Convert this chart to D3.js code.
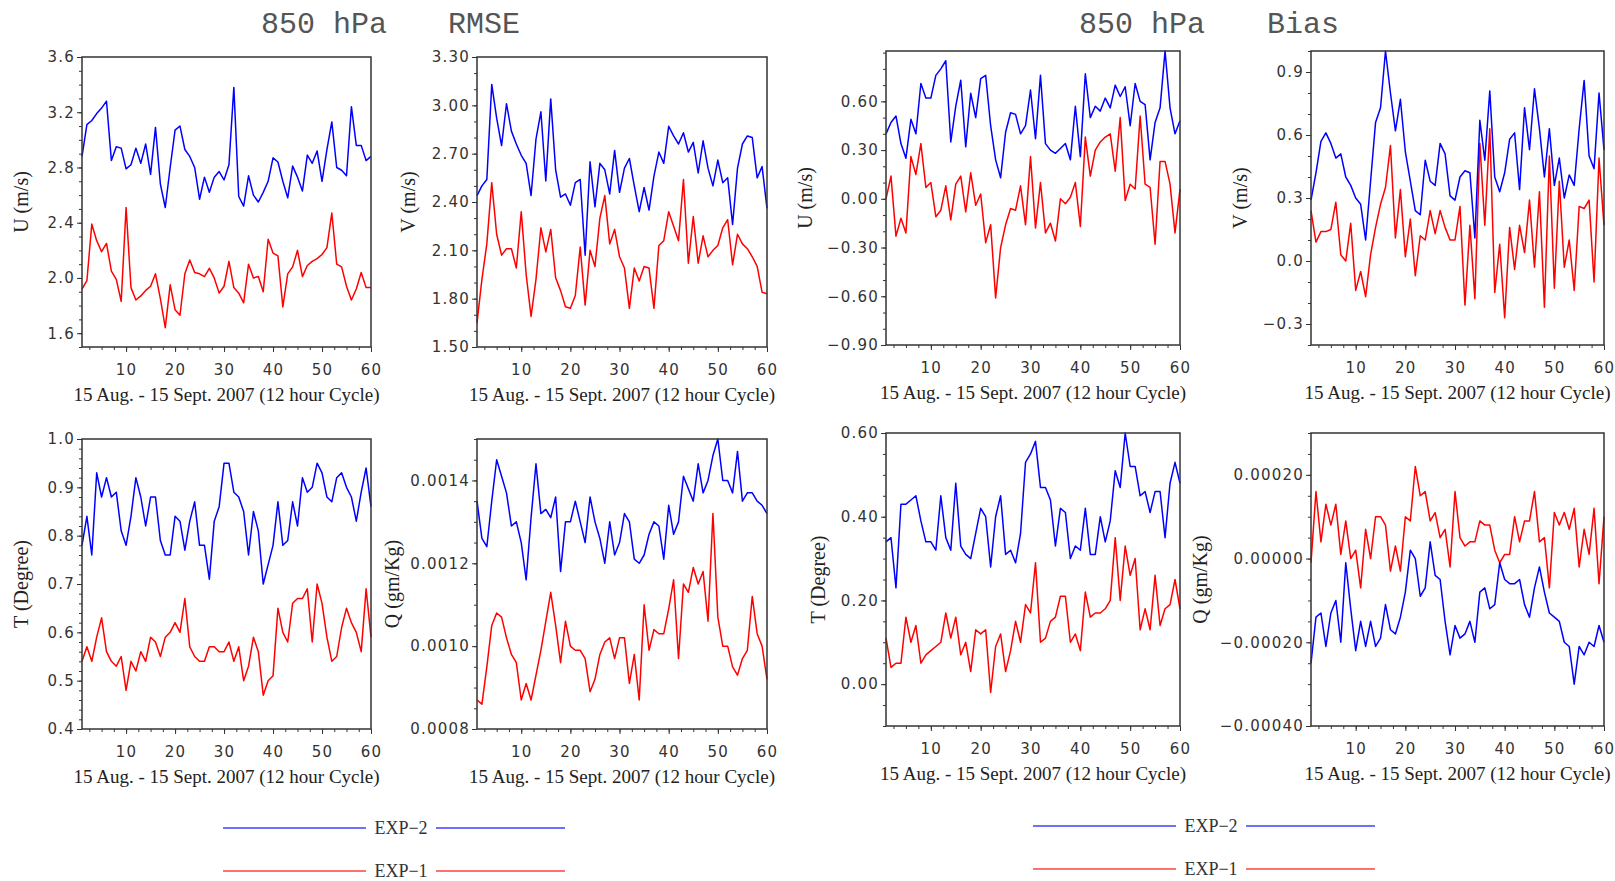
<!DOCTYPE html>
<html>
<head>
<meta charset="utf-8">
<script src="https://cdn.jsdelivr.net/npm/d3@7"></script>
<style>
  body { margin: 0; background: #fff; }
</style>
</head>
<body>
<script>
// 60 cicluri de 12 ore, 15 aug - 15 sept 2007 (850 hPa)
const cycleTicks = [10, 20, 30, 40, 50, 60];

// RMSE
const uRmseExp2 = [2.88,3.11,3.14,3.19,3.23,3.28,2.85,2.95,2.94,2.79, 2.82,2.94,2.83,2.97,2.75,3.09,2.68,2.51,2.80,3.07, 3.10,2.93,2.88,2.80,2.57,2.73,2.62,2.73,2.77,2.71, 2.82,3.38,2.59,2.52,2.74,2.60,2.55,2.62,2.70,2.87, 2.84,2.70,2.58,2.81,2.73,2.63,2.89,2.83,2.92,2.70, 2.93,3.13,2.80,2.78,2.74,3.24,2.96,2.96,2.85,2.88];
const uRmseExp1 = [1.92,1.98,2.39,2.27,2.19,2.25,2.05,1.99,1.83,2.51, 1.93,1.84,1.87,1.91,1.94,2.03,1.85,1.64,1.95,1.77, 1.73,2.03,2.13,2.04,2.03,2.01,2.07,2.00,1.89,1.94, 2.12,1.93,1.89,1.82,2.10,2.00,2.01,1.90,2.28,2.18, 2.16,1.79,2.03,2.08,2.20,2.01,2.09,2.12,2.14,2.17, 2.22,2.47,2.10,2.08,1.94,1.84,1.92,2.04,1.93,1.93];
const vRmseExp2 = [2.44,2.50,2.54,3.13,2.92,2.75,3.01,2.84,2.76,2.69, 2.64,2.44,2.79,2.96,2.53,3.04,2.60,2.43,2.45,2.38, 2.52,2.54,2.07,2.65,2.37,2.64,2.60,2.45,2.72,2.46, 2.61,2.67,2.50,2.34,2.49,2.35,2.56,2.71,2.64,2.87, 2.81,2.76,2.83,2.71,2.77,2.58,2.78,2.61,2.50,2.66, 2.52,2.55,2.26,2.61,2.76,2.81,2.80,2.55,2.62,2.36];
const vRmseExp1 = [1.65,1.92,2.14,2.52,2.20,2.07,2.11,2.11,1.99,2.34, 1.95,1.69,1.92,2.24,2.09,2.23,1.93,1.85,1.75,1.74, 1.82,2.12,1.76,2.10,2.00,2.30,2.44,2.14,2.23,2.06, 1.99,1.74,1.99,1.91,2.00,1.99,1.74,2.13,2.16,2.34, 2.25,2.16,2.54,2.02,2.31,2.02,2.19,2.06,2.10,2.13, 2.24,2.29,2.01,2.20,2.14,2.11,2.06,2.00,1.84,1.83];
const tRmseExp2 = [0.78,0.84,0.76,0.93,0.88,0.92,0.88,0.89,0.81,0.78, 0.84,0.92,0.88,0.82,0.88,0.88,0.79,0.76,0.76,0.84, 0.83,0.77,0.83,0.87,0.78,0.78,0.71,0.83,0.86,0.95, 0.95,0.89,0.88,0.85,0.76,0.85,0.81,0.70,0.74,0.78, 0.87,0.78,0.79,0.87,0.82,0.92,0.89,0.90,0.95,0.93, 0.88,0.87,0.92,0.93,0.90,0.88,0.83,0.89,0.94,0.86];
const tRmseExp1 = [0.54,0.57,0.54,0.59,0.63,0.56,0.54,0.53,0.55,0.48, 0.54,0.52,0.56,0.54,0.59,0.58,0.55,0.59,0.60,0.62, 0.60,0.67,0.57,0.55,0.54,0.54,0.57,0.57,0.56,0.56, 0.58,0.54,0.57,0.50,0.53,0.59,0.56,0.47,0.50,0.51, 0.65,0.60,0.58,0.66,0.67,0.67,0.69,0.58,0.70,0.66, 0.59,0.54,0.55,0.61,0.65,0.62,0.60,0.56,0.69,0.59];
const qRmseExp2 = [0.00135,0.00126,0.00124,0.00135,0.00145,0.00141,0.00137,0.00129,0.00130,0.00125, 0.00116,0.00131,0.00144,0.00132,0.00133,0.00131,0.00136,0.00118,0.00130,0.00130, 0.00135,0.00130,0.00125,0.00136,0.00130,0.00126,0.00120,0.00130,0.00122,0.00125, 0.00132,0.00130,0.00121,0.00120,0.00122,0.00127,0.00130,0.00129,0.00121,0.00134, 0.00127,0.00130,0.00141,0.00138,0.00135,0.00144,0.00137,0.00140,0.00146,0.00150, 0.00140,0.00140,0.00137,0.00147,0.00135,0.00137,0.00137,0.00135,0.00134,0.00132];
const qRmseExp1 = [0.00087,0.00086,0.00095,0.00105,0.00108,0.00107,0.00102,0.00098,0.00096,0.00087, 0.00091,0.00087,0.00093,0.00099,0.00106,0.00113,0.00105,0.00096,0.00106,0.00100, 0.00099,0.00099,0.00097,0.00089,0.00092,0.00098,0.00101,0.00102,0.00097,0.00102, 0.00102,0.00091,0.00098,0.00087,0.00110,0.00099,0.00104,0.00103,0.00103,0.00109, 0.00116,0.00097,0.00115,0.00113,0.00119,0.00115,0.00118,0.00106,0.00132,0.00107, 0.00100,0.00100,0.00095,0.00093,0.00097,0.00099,0.00112,0.00103,0.00100,0.00092];

// Bias
const uBiasExp2 = [0.40,0.47,0.51,0.34,0.25,0.49,0.40,0.71,0.62,0.62, 0.76,0.80,0.85,0.35,0.57,0.73,0.32,0.65,0.50,0.74, 0.76,0.45,0.24,0.13,0.41,0.53,0.52,0.40,0.45,0.67, 0.37,0.76,0.34,0.30,0.28,0.31,0.34,0.24,0.57,0.26, 0.77,0.50,0.57,0.54,0.62,0.56,0.70,0.63,0.69,0.45, 0.71,0.60,0.58,0.24,0.47,0.56,0.91,0.56,0.40,0.48];
const uBiasExp1 = [0.00,0.14,-0.23,-0.12,-0.21,0.26,0.15,0.34,0.07,0.10, -0.11,-0.07,0.08,-0.13,0.09,0.14,-0.08,0.16,-0.04,0.03, -0.27,-0.16,-0.61,-0.30,-0.16,-0.06,-0.07,0.08,-0.16,0.26, -0.18,0.10,-0.21,-0.15,-0.26,0.00,-0.03,0.01,0.10,-0.17, 0.38,0.14,0.30,0.35,0.38,0.40,0.17,0.50,-0.01,0.09, 0.06,0.51,0.09,0.07,-0.28,0.23,0.23,0.09,-0.21,0.06];
const vBiasExp2 = [0.29,0.42,0.57,0.61,0.56,0.49,0.51,0.40,0.36,0.30, 0.27,0.10,0.38,0.66,0.73,1.00,0.80,0.62,0.77,0.52, 0.38,0.24,0.22,0.48,0.38,0.36,0.56,0.51,0.31,0.29, 0.40,0.43,0.42,0.11,0.67,0.48,0.81,0.40,0.33,0.42, 0.58,0.61,0.34,0.73,0.53,0.82,0.63,0.40,0.63,0.36, 0.49,0.30,0.41,0.36,0.63,0.86,0.50,0.44,0.80,0.53];
const vBiasExp1 = [0.24,0.09,0.14,0.14,0.15,0.28,0.03,0.00,0.18,-0.14, -0.05,-0.17,0.03,0.16,0.27,0.35,0.55,0.11,0.34,0.02, 0.20,-0.07,0.12,0.10,0.24,0.13,0.24,0.16,0.10,0.10, 0.26,-0.21,0.17,-0.18,0.56,0.17,0.63,-0.15,0.08,-0.27, 0.16,-0.04,0.17,0.04,0.29,-0.03,0.33,-0.22,0.50,-0.13, 0.38,-0.03,0.10,-0.14,0.26,0.25,0.29,-0.10,0.49,0.17];
const tBiasExp2 = [0.34,0.35,0.23,0.43,0.43,0.44,0.45,0.39,0.34,0.34, 0.32,0.45,0.35,0.32,0.48,0.33,0.31,0.30,0.36,0.42, 0.40,0.28,0.40,0.45,0.31,0.32,0.29,0.36,0.53,0.55, 0.58,0.47,0.47,0.44,0.33,0.42,0.41,0.30,0.33,0.32, 0.42,0.31,0.31,0.40,0.34,0.39,0.51,0.47,0.60,0.52, 0.52,0.45,0.46,0.41,0.46,0.46,0.35,0.48,0.53,0.48];
const tBiasExp1 = [0.11,0.04,0.05,0.05,0.16,0.10,0.14,0.05,0.07,0.08, 0.09,0.10,0.17,0.11,0.16,0.07,0.10,0.03,0.13,0.12, 0.13,-0.02,0.09,0.12,0.03,0.08,0.15,0.10,0.19,0.17, 0.29,0.10,0.11,0.15,0.16,0.21,0.21,0.10,0.12,0.08, 0.22,0.16,0.17,0.17,0.18,0.20,0.35,0.20,0.33,0.26, 0.30,0.13,0.18,0.13,0.26,0.14,0.18,0.19,0.25,0.18];
const qBiasExp2 = [-0.00025,-0.00014,-0.00013,-0.00021,-0.00013,-0.00010,-0.00020,-0.00001,-0.00012,-0.00022, -0.00015,-0.00021,-0.00015,-0.00021,-0.00019,-0.00011,-0.00017,-0.00018,-0.00014,-0.00008, 0.00002,0.00000,-0.00009,-0.00007,0.00004,-0.00004,-0.00005,-0.00015,-0.00023,-0.00016, -0.00019,-0.00018,-0.00015,-0.00020,-0.00008,-0.00007,-0.00012,-0.00011,-0.00001,-0.00005, -0.00006,-0.00006,-0.00005,-0.00011,-0.00014,-0.00007,-0.00002,-0.00008,-0.00013,-0.00014, -0.00015,-0.00020,-0.00021,-0.00030,-0.00021,-0.00023,-0.00020,-0.00021,-0.00016,-0.00020];
const qBiasExp1 = [-0.00001,0.00016,0.00004,0.00013,0.00008,0.00013,0.00001,0.00009,0.00000,0.00002, -0.00007,0.00007,0.00000,0.00010,0.00010,0.00008,-0.00003,0.00003,-0.00003,0.00010, 0.00009,0.00022,0.00015,0.00016,0.00009,0.00011,0.00005,0.00007,-0.00002,0.00016, 0.00005,0.00003,0.00004,0.00004,0.00009,0.00008,0.00008,0.00002,-0.00001,0.00001, 0.00001,0.00010,0.00004,0.00009,0.00009,0.00016,0.00004,0.00005,-0.00007,0.00011, 0.00008,0.00011,0.00007,0.00012,-0.00002,0.00007,0.00001,0.00012,-0.00006,0.00010];

// Etichetele axelor Y (valori majore)
const uRmseTicks = [1.6, 2.0, 2.4, 2.8, 3.2, 3.6];
const vRmseTicks = [1.5, 1.8, 2.1, 2.4, 2.7, 3.0, 3.3];
const tRmseTicks = [0.4, 0.5, 0.6, 0.7, 0.8, 0.9, 1.0];
const qRmseTicks = [0.0008, 0.0010, 0.0012, 0.0014];
const uBiasTicks = [-0.9, -0.6, -0.3, 0, 0.3, 0.6];
const vBiasTicks = [-0.3, 0, 0.3, 0.6, 0.9];
const tBiasTicks = [0, 0.2, 0.4, 0.6];
const qBiasTicks = [-0.0004, -0.0002, 0, 0.0002];

const seriesNames = ["EXP−2", "EXP−1"];
const seriesColors = ["#0000ff", "#ff0000"];
const xAxisTitle = "15 Aug. - 15 Sept. 2007 (12 hour Cycle)";

const serif = "'Liberation Serif', 'Times New Roman', serif";
const sans = "'DejaVu Sans', Verdana, sans-serif";
const mono = "'Liberation Mono', 'Courier New', monospace";

const svg = d3.select("body")
  .append("svg")
  .attr("width", 1615)
  .attr("height", 881);

// Cele 8 panouri (pozitie in pagina + date)
const panels = [
  {x0: 82,   x1: 371,  y0: 57,  y1: 347, dom: [1.5, 3.6],   ticks: uRmseTicks, minor: 0.1,     fmt: ".1f", label: "U (m/s)",    off: 54, exp2: uRmseExp2, exp1: uRmseExp1},
  {x0: 477,  x1: 767,  y0: 57,  y1: 347, dom: [1.5, 3.3],   ticks: vRmseTicks, minor: 0.1,     fmt: ".2f", label: "V (m/s)",    off: 62, exp2: vRmseExp2, exp1: vRmseExp1},
  {x0: 886,  x1: 1180, y0: 51,  y1: 345, dom: [-0.9, 0.91], ticks: uBiasTicks, minor: 0.1,     fmt: ".2f", label: "U (m/s)",    off: 74, exp2: uBiasExp2, exp1: uBiasExp1},
  {x0: 1311, x1: 1604, y0: 51,  y1: 345, dom: [-0.4, 1.0],  ticks: vBiasTicks, minor: 0.1,     fmt: ".1f", label: "V (m/s)",    off: 64, exp2: vBiasExp2, exp1: vBiasExp1},
  {x0: 82,   x1: 371,  y0: 439, y1: 729, dom: [0.4, 1.0],   ticks: tRmseTicks, minor: 0.02,    fmt: ".1f", label: "T (Degree)", off: 54, exp2: tRmseExp2, exp1: tRmseExp1},
  {x0: 477,  x1: 767,  y0: 439, y1: 729, dom: [0.0008, 0.0015], ticks: qRmseTicks, minor: 0.00005, fmt: ".4f", label: "Q (gm/Kg)", off: 78, exp2: qRmseExp2, exp1: qRmseExp1},
  {x0: 886,  x1: 1180, y0: 433, y1: 726, dom: [-0.1, 0.6],  ticks: tBiasTicks, minor: 0.05,    fmt: ".2f", label: "T (Degree)", off: 61, exp2: tBiasExp2, exp1: tBiasExp1},
  {x0: 1311, x1: 1604, y0: 433, y1: 726, dom: [-0.0004, 0.0003], ticks: qBiasTicks, minor: 0.00005, fmt: ".5f", label: "Q (gm/Kg)", off: 104, exp2: qBiasExp2, exp1: qBiasExp1}
];

// valorile tick-urilor mici intre limitele domeniului
function minorValues(dom, step) {
  const lo = Math.ceil(dom[0] / step - 1e-6), hi = Math.floor(dom[1] / step + 1e-6);
  return d3.range(lo, hi + 1).map(k => +(k * step).toPrecision(10));
}

function styleAxis(g) {
  g.select(".domain").remove();
  g.selectAll("line").attr("stroke", "#333").attr("stroke-width", 1);
  g.selectAll("text")
    .style("font-family", sans)
    .style("font-size", "15px")
    .style("letter-spacing", "1.2px")
    .attr("fill", "#333");
}

panels.forEach(p => {
  const x = d3.scaleLinear().domain([1, 60]).range([p.x0, p.x1]);
  const y = d3.scaleLinear().domain(p.dom).range([p.y1, p.y0]);
  const g = svg.append("g");

  // axa X: majore + minore
  g.append("g")
    .attr("transform", `translate(0,${p.y1})`)
    .call(d3.axisBottom(x).tickValues(minorValues([1, 60], 2.5)).tickSize(3).tickFormat(""))
    .call(styleAxis);
  g.append("g")
    .attr("transform", `translate(0,${p.y1})`)
    .call(d3.axisBottom(x).tickValues(cycleTicks).tickSize(5).tickPadding(12))
    .call(styleAxis);

  // axa Y: majore + minore
  g.append("g")
    .attr("transform", `translate(${p.x0},0)`)
    .call(d3.axisLeft(y).tickValues(minorValues(p.dom, p.minor)).tickSize(3).tickFormat(""))
    .call(styleAxis);
  g.append("g")
    .attr("transform", `translate(${p.x0},0)`)
    .call(d3.axisLeft(y).tickValues(p.ticks).tickSize(5).tickPadding(2).tickFormat(d3.format(p.fmt)))
    .call(styleAxis);

  // liniile seriilor (EXP-1 sub EXP-2)
  const line = d3.line().x((d, i) => x(i + 1)).y(d => y(d));
  [p.exp1, p.exp2].forEach((s, k) => {
    g.append("path")
      .datum(s)
      .attr("d", line)
      .attr("fill", "none")
      .attr("stroke", k === 0 ? seriesColors[1] : seriesColors[0])
      .attr("stroke-width", 1.5)
      .attr("stroke-linejoin", "round");
  });

  // cadrul
  g.append("rect")
    .attr("x", p.x0).attr("y", p.y0)
    .attr("width", p.x1 - p.x0).attr("height", p.y1 - p.y0)
    .attr("fill", "none")
    .attr("stroke", "#333")
    .attr("stroke-width", 1.5);

  // titlul axei X
  g.append("text")
    .attr("x", (p.x0 + p.x1) / 2)
    .attr("y", p.y1 + 54)
    .attr("text-anchor", "middle")
    .style("font-family", serif)
    .style("font-size", "19px")
    .attr("fill", "#222")
    .text(xAxisTitle);

  // titlul axei Y (rotit)
  g.append("text")
    .attr("transform", `translate(${p.x0 - p.off},${(p.y0 + p.y1) / 2}) rotate(-90)`)
    .attr("text-anchor", "middle")
    .style("font-family", serif)
    .style("font-size", "20px")
    .attr("fill", "#222")
    .text(p.label);
});

// Titluri
const titles = [
  {x: 261, t: "850 hPa"}, {x: 448, t: "RMSE"},
  {x: 1079, t: "850 hPa"}, {x: 1267, t: "Bias"}
];
svg.selectAll(".title")
  .data(titles)
  .enter().append("text")
  .attr("x", d => d.x)
  .attr("y", 33)
  .style("font-family", mono)
  .style("font-size", "30px")
  .attr("fill", "#555")
  .text(d => d.t);

// Legende (stanga si dreapta)
const legends = [
  {a: 223, b: 366, c: 436, d: 565, y: 828},
  {a: 1033, b: 1176, c: 1246, d: 1375, y: 826}
];
legends.forEach(L => {
  seriesNames.forEach((name, k) => {
    const yy = L.y + k * 43;
    [[L.a, L.b], [L.c, L.d]].forEach(seg => {
      svg.append("line")
        .attr("x1", seg[0]).attr("x2", seg[1])
        .attr("y1", yy).attr("y2", yy)
        .attr("stroke", seriesColors[k])
        .attr("stroke-opacity", 0.75)
        .attr("stroke-width", 1.5);
    });
    svg.append("text")
      .attr("x", (L.b + L.c) / 2)
      .attr("y", yy + 6)
      .attr("text-anchor", "middle")
      .style("font-family", serif)
      .style("font-size", "18px")
      .attr("fill", "#333")
      .text(name);
  });
});
</script>
</body>
</html>
